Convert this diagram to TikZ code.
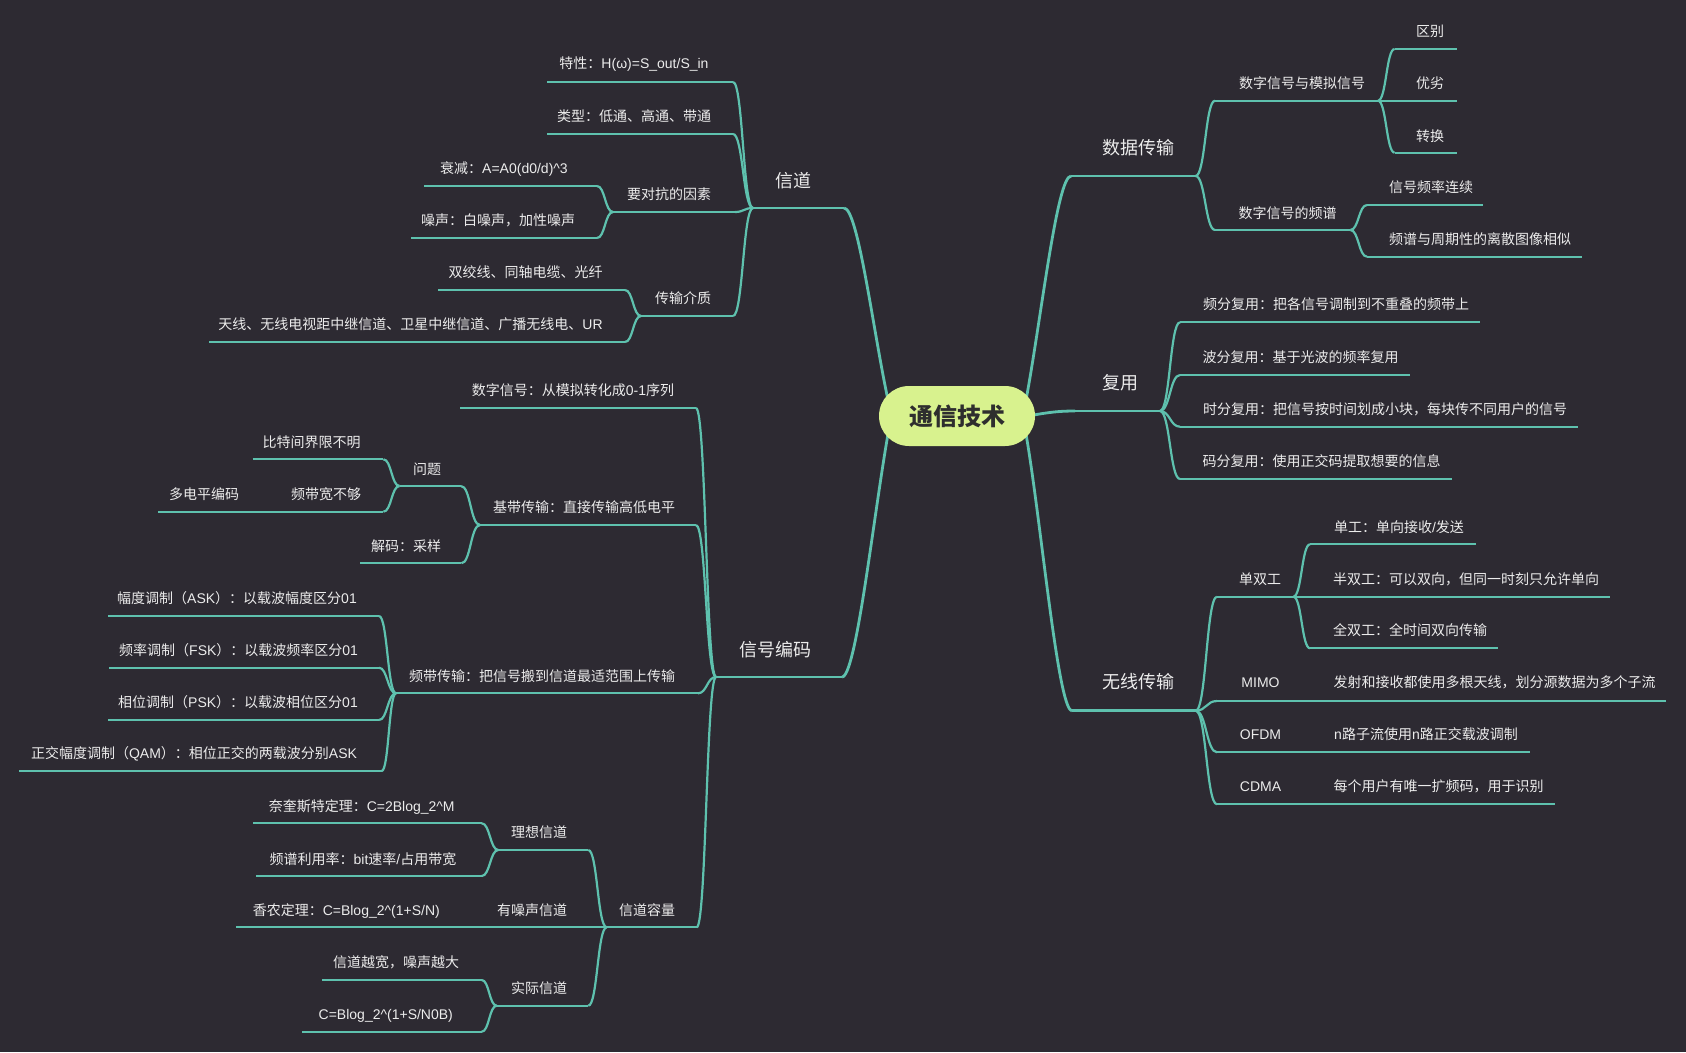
\documentclass[tikz,border=0pt]{standalone}
\usepackage{fontspec}
\setmainfont{Liberation Sans}
\newfontfamily\cjkfont{Noto Sans CJK SC}
\newfontfamily\latfont{Liberation Sans}
\usetikzlibrary{calc}
\XeTeXinterchartokenstate=1
\newXeTeXintercharclass\CJKcls
\makeatletter
\def\setcjkrange#1#2{\count@=#1\relax
  \loop\XeTeXcharclass\count@=\CJKcls\relax
  \ifnum\count@<#2\relax\advance\count@\@ne\repeat}
\setcjkrange{"3000}{"303F}
\setcjkrange{"4E00}{"9FFF}
\setcjkrange{"FF00}{"FFEF}
\makeatother
\XeTeXinterchartoks 0 \CJKcls = {\cjkfont}
\XeTeXinterchartoks 4095 \CJKcls = {\cjkfont}
\XeTeXinterchartoks \CJKcls 0 = {\latfont}
\XeTeXinterchartoks \CJKcls 4095 = {\latfont}

\definecolor{bgc}{HTML}{2D2A32}
\definecolor{linec}{HTML}{5EC1AE}
\definecolor{txtc}{HTML}{ECECEC}
\definecolor{pillc}{HTML}{D8F28E}
\definecolor{pilltxt}{HTML}{2E2E2E}

\tikzset{
  leaf/.style={font=\fontsize{14}{17}\selectfont, text=txtc, anchor=base, inner sep=0pt, yshift=-5.2pt},
  main/.style={font=\fontsize{18}{22}\selectfont, text=txtc, anchor=base, inner sep=0pt, yshift=-6.7pt},
  leaf ul/.style={draw=linec, line width=2.2pt},
  main ul/.style={draw=linec, line width=2.8pt},
  conn/.style={draw=linec, line width=2.2pt},
  main conn/.style={draw=linec, line width=2.8pt},
  pill/.style={fill=pillc, rounded corners=30pt, minimum width=156pt, minimum height=60pt,
    inner sep=0pt, text=pilltxt, font=\cjkfont\bfseries\fontsize{24}{28}\selectfont}
}

% #1 name, #2 style, #3 x, #4 y (visual centre), #5 x1, #6 x2, #7 y of underline, #8 text
\newcommand\mmtopic[8]{%
  \node[#2] (#1) at (#3,#4) {#8};
  \coordinate (#1l) at (#5,#7);
  \coordinate (#1r) at (#6,#7);
  \draw[#2 ul] (#1l) -- (#1r);
}
% sigmoid connector: horizontal at both ends
\newcommand\mmlink[2]{%
  \draw[conn] (#1) .. controls ($(#1)!0.5!(#2|-#1)$) and ($(#2)!0.5!(#1|-#2)$) .. (#2);
}

\begin{document}
\begin{tikzpicture}[x=1pt,y=-1pt]
\useasboundingbox (0,0) rectangle (1686,1052);
\fill[bgc] (0,0) rectangle (1686,1052);

% ---------- 信道 ----------
\mmtopic{L0}{main}{793}{181}{753}{844}{208}{信道}
\mmtopic{L1}{leaf}{634}{63}{547}{733}{82}{特性：H(ω)=S\_out/S\_in}
\mmtopic{L2}{leaf}{634}{116.5}{547}{733}{134}{类型：低通、高通、带通}
\mmtopic{L3}{leaf}{669}{194}{613}{735}{212}{要对抗的因素}
\mmtopic{L31}{leaf}{504}{168}{424}{597}{186}{衰减：A=A0(d0/d)\textasciicircum 3}
\mmtopic{L32}{leaf}{498}{220}{411}{597}{238}{噪声：白噪声，加性噪声}
\mmtopic{L4}{leaf}{683}{298}{641}{733}{316}{传输介质}
\mmtopic{L41}{leaf}{525.5}{272.5}{438}{625}{290}{双绞线、同轴电缆、光纤}
\mmtopic{L42}{leaf}{410.6}{324}{209}{625}{342}{天线、无线电视距中继信道、卫星中继信道、广播无线电、UR}
\mmlink{L0l}{L1r}\mmlink{L0l}{L2r}\mmlink{L0l}{L3r}\mmlink{L0l}{L4r}
\mmlink{L3l}{L31r}\mmlink{L3l}{L32r}
\mmlink{L4l}{L41r}\mmlink{L4l}{L42r}

% ---------- 信号编码 ----------
\mmtopic{S0}{main}{775}{650}{716}{842}{677}{信号编码}
\mmtopic{S1}{leaf}{573}{390}{460}{696}{408}{数字信号：从模拟转化成0-1序列}
\mmtopic{S2}{leaf}{584}{507.5}{480}{696}{525}{基带传输：直接传输高低电平}
\mmtopic{S21}{leaf}{427}{469}{399.5}{461}{486}{问题}
\mmtopic{S211}{leaf}{311.6}{442.7}{252.5}{383.4}{459.3}{比特间界限不明}
\mmtopic{S212}{leaf}{326}{494.3}{280}{383.4}{511.7}{频带宽不够}
\mmtopic{S2121}{leaf}{204}{494.3}{158.4}{262}{511.7}{多电平编码}
\mmtopic{S22}{leaf}{406}{546}{360.4}{461.4}{563.3}{解码：采样}
\mmtopic{S3}{leaf}{542}{676}{396}{698}{693.3}{频带传输：把信号搬到信道最适范围上传输}
\mmtopic{S31}{leaf}{237}{598.3}{108}{379}{616}{幅度调制（ASK）：以载波幅度区分01}
\mmtopic{S32}{leaf}{238.6}{650}{109}{379}{667.7}{频率调制（FSK）：以载波频率区分01}
\mmtopic{S33}{leaf}{238}{702.3}{108}{379}{720}{相位调制（PSK）：以载波相位区分01}
\mmtopic{S34}{leaf}{194}{753.5}{19.4}{381.7}{771}{正交幅度调制（QAM）：相位正交的两载波分别ASK}
\mmtopic{S4}{leaf}{647}{910.7}{606.7}{696.7}{927.3}{信道容量}
\mmtopic{S41}{leaf}{539}{832.3}{498.3}{588.3}{850}{理想信道}
\mmtopic{S411}{leaf}{361.7}{806}{253.3}{481.7}{823.3}{奈奎斯特定理：C=2Blog\_2\textasciicircum{}M}
\mmtopic{S412}{leaf}{363}{859}{256}{481.7}{876}{频谱利用率：bit速率/占用带宽}
\mmtopic{S42}{leaf}{532}{910}{498.3}{588.3}{927.3}{有噪声信道}
\mmtopic{S421}{leaf}{346.3}{910}{236}{481.7}{927.3}{香农定理：C=Blog\_2\textasciicircum(1+S/N)}
\mmtopic{S43}{leaf}{539}{988.3}{496.7}{588.3}{1005.7}{实际信道}
\mmtopic{S431}{leaf}{396}{962.3}{322.3}{481.7}{980}{信道越宽，噪声越大}
\mmtopic{S432}{leaf}{385.8}{1014.3}{302.3}{481.7}{1031.7}{C=Blog\_2\textasciicircum(1+S/N0B)}
\mmlink{S0l}{S1r}\mmlink{S0l}{S2r}\mmlink{S0l}{S3r}\mmlink{S0l}{S4r}
\mmlink{S2l}{S21r}\mmlink{S2l}{S22r}
\mmlink{S21l}{S211r}\mmlink{S21l}{S212r}
\mmlink{S212l}{S2121r}
\mmlink{S3l}{S31r}\mmlink{S3l}{S32r}\mmlink{S3l}{S33r}\mmlink{S3l}{S34r}
\mmlink{S4l}{S41r}\mmlink{S4l}{S42r}\mmlink{S4l}{S43r}
\mmlink{S41l}{S411r}\mmlink{S41l}{S412r}
\mmlink{S42l}{S421r}
\mmlink{S43l}{S431r}\mmlink{S43l}{S432r}

% ---------- 数据传输 ----------
\mmtopic{R1}{main}{1138.7}{148}{1071}{1195.6}{176}{数据传输}
\mmtopic{R11}{leaf}{1302}{83}{1215}{1378}{100.7}{数字信号与模拟信号}
\mmtopic{R111}{leaf}{1430}{31}{1394.6}{1456.5}{49}{区别}
\mmtopic{R112}{leaf}{1430}{83.3}{1394.6}{1456.5}{100.7}{优劣}
\mmtopic{R113}{leaf}{1430}{136}{1394.6}{1456.5}{152.7}{转换}
\mmtopic{R12}{leaf}{1287.5}{213.3}{1215}{1350.4}{230}{数字信号的频谱}
\mmtopic{R121}{leaf}{1431}{187.7}{1367}{1483}{205}{信号频率连续}
\mmtopic{R122}{leaf}{1480}{239.5}{1367}{1582}{256.7}{频谱与周期性的离散图像相似}
\mmlink{R1r}{R11l}\mmlink{R1r}{R12l}
\mmlink{R11r}{R111l}\mmlink{R11r}{R112l}\mmlink{R11r}{R113l}
\mmlink{R12r}{R121l}\mmlink{R12r}{R122l}

% ---------- 复用 ----------
\mmtopic{R2}{main}{1120.8}{383}{1075}{1160}{411}{复用}
\mmtopic{R21}{leaf}{1336}{304.7}{1180}{1480}{322.3}{频分复用：把各信号调制到不重叠的频带上}
\mmtopic{R22}{leaf}{1300.6}{357.3}{1180}{1410}{375}{波分复用：基于光波的频率复用}
\mmtopic{R23}{leaf}{1385}{409.3}{1180}{1577.7}{426.7}{时分复用：把信号按时间划成小块，每块传不同用户的信号}
\mmtopic{R24}{leaf}{1321.6}{461.7}{1180}{1452}{479}{码分复用：使用正交码提取想要的信息}
\mmlink{R2r}{R21l}\mmlink{R2r}{R22l}\mmlink{R2r}{R23l}\mmlink{R2r}{R24l}

% ---------- 无线传输 ----------
\mmtopic{R3}{main}{1138.6}{682.2}{1072}{1195.7}{710.7}{无线传输}
\mmtopic{R31}{leaf}{1260}{579}{1217}{1293.4}{596.7}{单双工}
\mmtopic{R311}{leaf}{1399}{527.3}{1310}{1476}{544.3}{单工：单向接收/发送}
\mmtopic{R312}{leaf}{1466}{579}{1310}{1609.8}{596.7}{半双工：可以双向，但同一时刻只允许单向}
\mmtopic{R313}{leaf}{1410}{630.7}{1310}{1498}{648.3}{全双工：全时间双向传输}
\mmtopic{R32}{leaf}{1260.5}{682.7}{1217}{1300}{701}{MIMO}
\mmtopic{R321}{leaf}{1494.7}{682.7}{1320}{1666.3}{701}{发射和接收都使用多根天线，划分源数据为多个子流}
\mmtopic{R33}{leaf}{1260.5}{734.3}{1217}{1300}{752.3}{OFDM}
\mmtopic{R331}{leaf}{1426}{734.3}{1320}{1530}{752.3}{n路子流使用n路正交载波调制}
\mmtopic{R34}{leaf}{1260.5}{786.7}{1217}{1300}{804.3}{CDMA}
\mmtopic{R341}{leaf}{1438.5}{786.7}{1320}{1555}{804.3}{每个用户有唯一扩频码，用于识别}
\mmlink{R3r}{R31l}\mmlink{R3r}{R32l}\mmlink{R3r}{R33l}\mmlink{R3r}{R34l}
\mmlink{R31r}{R311l}\mmlink{R31r}{R312l}\mmlink{R31r}{R313l}
\mmlink{R32r}{R321l}\mmlink{R33r}{R331l}\mmlink{R34r}{R341l}

% ---------- root connectors ----------
\coordinate (pL1) at (888,400);
\coordinate (pL2) at (888,434);
\coordinate (pR1) at (1026,400);
\coordinate (pR2) at (1028,416);
\coordinate (pR3) at (1026,434);
\draw[main conn] (pL1) .. controls (873,330) and (858,208) .. (L0r);
\draw[main conn] (pL2) .. controls (873,520) and (856,677) .. (S0r);
\draw[main conn] (pR1) .. controls (1041,320) and (1057,176) .. (R1l);
\draw[main conn] (pR2) .. controls (1050,412) and (1060,411) .. (R2l);
\draw[main conn] (pR3) .. controls (1041,520) and (1058,711) .. (R3l);

\node[pill] (root) at (957,416) {通信技术};
\end{tikzpicture}
\end{document}
